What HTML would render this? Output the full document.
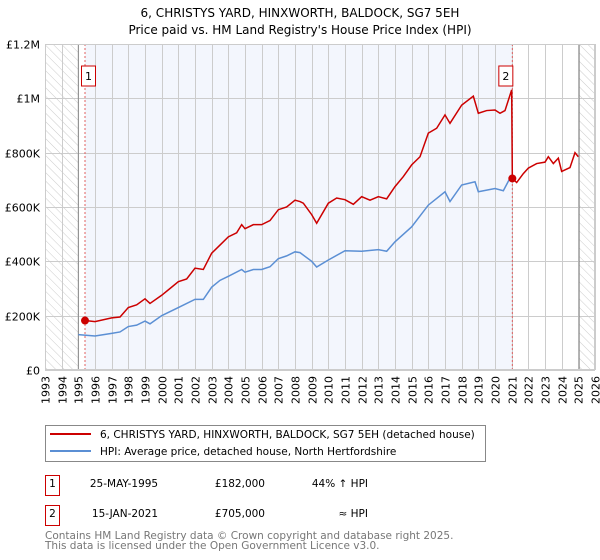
<!DOCTYPE html>
<html><head><meta charset="utf-8"><style>
body{margin:0;background:#fff;font-family:"Liberation Sans","DejaVu Sans",sans-serif;}
svg{display:block}
</style></head><body>
<svg id="c" width="600" height="560" viewBox="0 0 600 560" font-family="DejaVu Sans, Liberation Sans, sans-serif">
<defs><pattern id="hatch" width="6" height="6" patternUnits="userSpaceOnUse" patternTransform="rotate(-45)"><line x1="0" y1="0" x2="0" y2="6" stroke="#ccc" stroke-width="1"/></pattern></defs>
<text x="300" y="17" text-anchor="middle" font-size="12">6, CHRISTYS YARD, HINXWORTH, BALDOCK, SG7 5EH</text>
<text x="300" y="34" text-anchor="middle" font-size="12">Price paid vs. HM Land Registry's House Price Index (HPI)</text>
<g id="plot"></g>
<rect x="45.5" y="425.5" width="440" height="36" fill="#fff" stroke="#888"/>
<line x1="50" y1="434" x2="91" y2="434" stroke="#cc0000" stroke-width="2"/>
<text x="100" y="438" font-size="10.5">6, CHRISTYS YARD, HINXWORTH, BALDOCK, SG7 5EH (detached house)</text>
<line x1="50" y1="451" x2="91" y2="451" stroke="#5b8fd4" stroke-width="2"/>
<text x="100" y="455" font-size="10.5">HPI: Average price, detached house, North Hertfordshire</text>
<g font-size="10.5">
<rect x="45.5" y="475.5" width="14" height="20" fill="#fff" stroke="#cc0000"/>
<text x="52.5" y="487" text-anchor="middle">1</text>
<text x="124" y="487" text-anchor="middle">25-MAY-1995</text>
<text x="265" y="487" text-anchor="end">£182,000</text>
<text x="368" y="487" text-anchor="end">44% ↑ HPI</text>
<rect x="45.5" y="505.5" width="14" height="20" fill="#fff" stroke="#cc0000"/>
<text x="52.5" y="517" text-anchor="middle">2</text>
<text x="125" y="517" text-anchor="middle">15-JAN-2021</text>
<text x="265" y="517" text-anchor="end">£705,000</text>
<text x="368" y="517" text-anchor="end">≈ HPI</text>
</g>
<text x="45" y="539" font-size="10.5" fill="#777">Contains HM Land Registry data © Crown copyright and database right 2025.</text>
<text x="45" y="549" font-size="10.5" fill="#777">This data is licensed under the Open Government Licence v3.0.</text>
</svg>
<script>
const yTicks=[0,200000,400000,600000,800000,1000000,1200000];
const yTickLabels=["£0","£200K","£400K","£600K","£800K","£1M","£1.2M"];
const years=[1993,1994,1995,1996,1997,1998,1999,2000,2001,2002,2003,2004,2005,2006,2007,2008,2009,2010,2011,2012,2013,2014,2015,2016,2017,2018,2019,2020,2021,2022,2023,2024,2025,2026];
const hpiT=[1995.0,1996,1997,1997.5,1998,1998.5,1999,1999.3,2000,2001,2002,2002.5,2003,2003.5,2004,2004.8,2005,2005.5,2006,2006.5,2007,2007.5,2008,2008.3,2009,2009.3,2010,2011,2012,2013,2013.5,2014,2015,2016,2017,2017.3,2018,2018.8,2019,2020,2020.5,2021.0];
const hpiV=[130,125,135,140,160,165,180,170,200,230,260,260,305,330,345,370,360,370,370,380,410,420,435,432,400,379,405,439,437,443,437,472,527,607,656,620,681,693,656,668,660,718];
const redT=[1995.4,1996,1997,1997.5,1998,1998.5,1999,1999.3,2000,2000.5,2001,2001.5,2002,2002.5,2003,2003.5,2004,2004.5,2004.8,2005,2005.5,2006,2006.5,2007,2007.5,2008,2008.3,2008.5,2009,2009.3,2010,2010.5,2011,2011.5,2012,2012.5,2013,2013.5,2014,2014.5,2015,2015.5,2016,2016.5,2017,2017.3,2018,2018.7,2019,2019.5,2020,2020.3,2020.6,2021.0,2021.04,2021.3,2021.7,2022,2022.5,2023,2023.2,2023.5,2023.8,2024,2024.5,2024.8,2025.0];
const redV=[182,178,192,195,230,240,262,245,275,300,325,335,375,370,430,460,490,505,535,520,535,535,550,590,600,625,620,614,572,540,614,633,627,610,638,625,638,630,675,712,755,785,872,890,939,908,975,1008,945,955,957,945,955,1031,705,690,723,743,760,765,785,760,780,731,745,800,785];
const saleT=[1995.4,2021.04];
const saleV=[182,705];
const saleLabels=["1","2"];
const NS="http://www.w3.org/2000/svg";
const X0=45,X1=595,Y0=370,Y1=44;
const xs=t=>X0+(t-1993)/(2026-1993)*(X1-X0);
const ys=v=>Y0-v/1200000*(Y0-Y1);
const g=document.getElementById('plot');
function mk(tag,at,parent){const e=document.createElementNS(NS,tag);for(const k in at)e.setAttribute(k,at[k]);(parent||g).appendChild(e);return e;}
let e;
e=mk('rect',{x:xs(1995.4),y:Y1,width:xs(2021.04)-xs(1995.4),height:Y0-Y1,fill:'#f3f6fd'});


e=mk('rect',{x:X0,y:Y1,width:xs(1995)-X0,height:Y0-Y1,fill:'url(#hatch)'});


e=mk('rect',{x:xs(2025.05),y:Y1,width:X1-xs(2025.05),height:Y0-Y1,fill:'url(#hatch)'});


years.forEach(y=>{const x=Math.round(xs(y))+0.5;
e=mk('line',{x1:x,y1:Y1,x2:x,y2:Y0,stroke:'#ccc','stroke-width':1});


e=mk('text',{x:0,y:0,'font-size':11,'text-anchor':'end',transform:`translate(${x+4},${Y0+6}) rotate(-90)`});
e.textContent=y;

});
yTicks.forEach((v,i)=>{const y=Math.round(ys(v))+0.5;
e=mk('line',{x1:X0,y1:y,x2:X1,y2:y,stroke:'#ccc','stroke-width':1});


e=mk('text',{x:X0-5,y:y+4,'font-size':11,'text-anchor':'end'});
e.textContent=yTickLabels[i];

});
e=mk('line',{x1:xs(1995),y1:Y1,x2:xs(1995),y2:Y0,stroke:'#888'});


e=mk('line',{x1:xs(2025.05),y1:Y1,x2:xs(2025.05),y2:Y0,stroke:'#888'});


saleT.forEach((t,i)=>{e=mk('line',{x1:xs(t),y1:Y1,x2:xs(t),y2:Y0,stroke:'#e06060','stroke-dasharray':'2,2'});

});
e=mk('polyline',{points:hpiT.map((t,i)=>xs(t)+','+ys(hpiV[i]*1000)).join(' '),fill:'none',stroke:'#5b8fd4','stroke-width':1.5});


e=mk('polyline',{points:redT.map((t,i)=>xs(t)+','+ys(redV[i]*1000)).join(' '),fill:'none',stroke:'#cc0000','stroke-width':1.5});


saleT.forEach((t,i)=>{e=mk('circle',{cx:xs(t),cy:ys(saleV[i]*1000),r:4,fill:'#cc0000'});


const bx=xs(t)-(i==0?-3.5:6.5);
e=mk('rect',{x:bx-7,y:66,width:14,height:20,fill:'#fff',stroke:'#cc0000'});


e=mk('text',{x:bx,y:80,'font-size':11,'text-anchor':'middle'});
e.textContent=saleLabels[i];

});
e=mk('rect',{x:X0+0.5,y:Y1+0.5,width:X1-X0-1,height:Y0-Y1-1,fill:'none',stroke:'#ccc'});


</script>
</body></html>
